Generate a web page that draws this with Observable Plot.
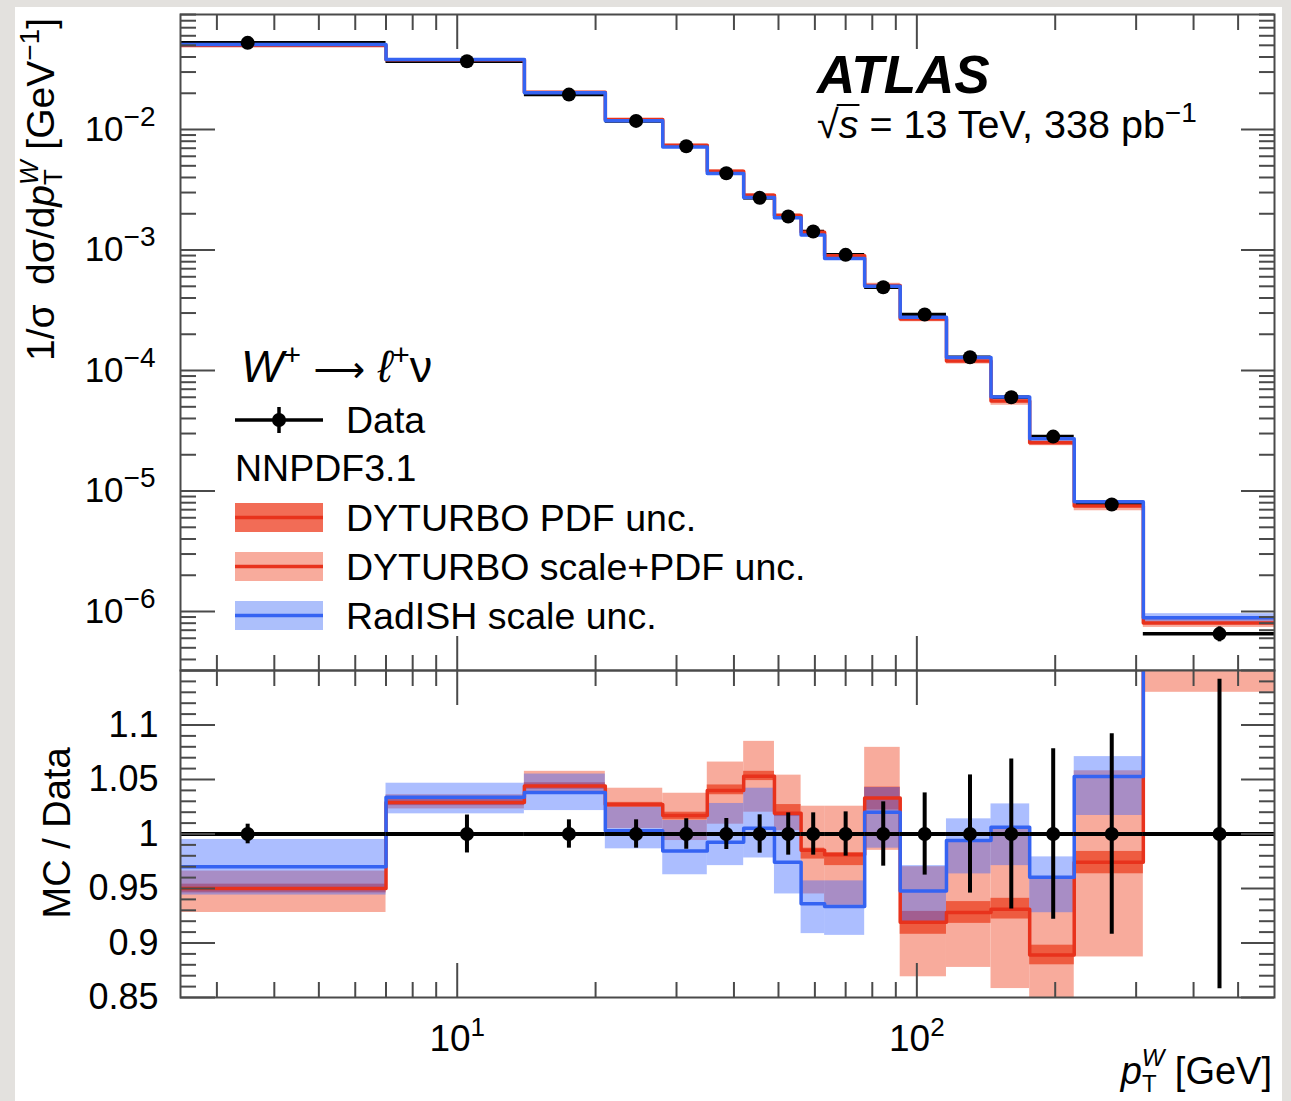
<!DOCTYPE html>
<html><head><meta charset="utf-8">
<script src="https://cdn.jsdelivr.net/npm/d3@7"></script>
<script src="https://cdn.jsdelivr.net/npm/@observablehq/plot@0.6"></script>
<style>
html,body{margin:0;padding:0;background:#e3e1de;}
#page{position:relative;width:1291px;height:1101px;overflow:hidden;}
#card{position:absolute;left:15px;top:7px;width:1267px;height:1094px;background:#fff;}
.panel{position:absolute;left:0;}
#overlay{position:absolute;left:0;top:0;pointer-events:none;}
</style></head><body>
<div id="page">
  <div id="card"></div>
  <div id="top" class="panel" style="top:0px"></div>
  <div id="bot" class="panel" style="top:668px"></div>
  <svg id="overlay" width="1291" height="1101"></svg>
</div>
<script>
// ---------------- data ----------------
const EDGES   = [0, 7, 14, 21, 28, 35, 42, 49, 56, 63, 77, 92, 116, 145, 176, 220, 311, 600];
const CENTERS = [3.5, 10.5, 17.5, 24.5, 31.5, 38.5, 45.5, 52.5, 59.5, 70, 84.5, 104, 130.5, 160.5, 198, 265.5, 455.5];
const DATA    = [0.0524, 0.0369, 0.0195, 0.0118, 0.00727, 0.00434, 0.00271, 0.00190, 0.001424, 0.000912,
                 0.000491, 0.000292, 0.000129, 6.0e-5, 2.83e-5, 7.73e-6, 6.53e-7];
const DATA_REL_ERR = [0.009, 0.0174, 0.013, 0.013, 0.014, 0.0142, 0.0176, 0.0194, 0.0194, 0.0203,
                      0.0295, 0.0377, 0.0542, 0.0688, 0.0783, 0.092, 0.142];
// DYTURBO (ratio MC/Data)
const DYT        = [0.950, 1.029, 1.044, 1.027, 1.017, 1.040, 1.053, 1.019, 0.985, 0.981, 1.033, 0.919, 0.928, 0.931, 0.889, 0.974, 1.23];
const DYT_PDF_LO = [0.946, 1.026, 1.041, 1.0245, 1.013, 1.036, 1.049, 1.016, 0.977, 0.971, 1.022, 0.908, 0.918, 0.922, 0.880, 0.9635, 1.215];
const DYT_PDF_HI = [0.954, 1.032, 1.047, 1.029, 1.020, 1.045, 1.0575, 1.027, 0.987, 0.983, 1.043, 0.929, 0.938, 0.941, 0.898, 0.984, 1.245];
const DYT_SCL_LO = [0.928, 1.023, 1.037, 1.005, 0.994, 1.009, 1.020, 1.003, 0.945, 0.9345, 0.985, 0.869, 0.8776, 0.8582, 0.84, 0.8872, 1.13];
const DYT_SCL_HI = [0.966, 1.036, 1.0575, 1.042, 1.0374, 1.066, 1.085, 1.054, 1.0255, 1.0255, 1.0795, 0.970, 0.994, 1.005, 0.9604, 1.058, 1.35];
// RadISH (ratio MC/Data)
const RAD    = [0.970, 1.0337, 1.038, 1.003, 0.9843, 0.9925, 1.0053, 0.974, 0.936, 0.9336, 1.020, 0.9476, 0.994, 1.0063, 0.9604, 1.0527, 1.36];
const RAD_LO = [0.944, 1.0185, 1.0215, 0.9864, 0.9626, 0.971, 0.978, 0.945, 0.9086, 0.907, 0.987, 0.919, 0.9634, 0.971, 0.9278, 1.017, 1.25];
const RAD_HI = [0.995, 1.0466, 1.055, 1.0246, 1.0124, 1.028, 1.042, 1.017, 0.957, 0.957, 1.0426, 0.971, 1.0139, 1.0276, 0.979, 1.071, 1.47];

// axes
const X_DOMAIN = [2.5, 600];
const TOP_Y_DOMAIN = [3.24e-7, 0.0901];
const BOT_Y_DOMAIN = [0.85, 1.15];
const X_MAJOR = [10, 100];
const X_MINOR = [3, 4, 5, 6, 7, 8, 9, 20, 30, 40, 50, 60, 70, 80, 90, 200, 300, 400, 500];
const Y_TOP_MAJOR = [1e-6, 1e-5, 1e-4, 1e-3, 1e-2];
const BOT_Y_LABELS = [0.85, 0.9, 0.95, 1, 1.05, 1.1];

// ---------------- style ----------------
const FONT = '"Liberation Sans", Arial, Helvetica, sans-serif';
const SALMON = "#f8ab9c", PDFC = "#ee5b40", PDF_SW = "#f26c56";
const RED = "#e8321c", BLUE = "#3563f2", BLUEBAND = "#3a64ff", BLUE_SW = "#acbffb";
const AX = "#4a4a4a";
const W = 1291, ML = 180, MR = 17;
const innerW = W - ML - MR;

const bins = CENTERS.map((c, i) => ({
  lo: Math.max(EDGES[i], X_DOMAIN[0]), hi: EDGES[i + 1], c,
  data: DATA[i], err: DATA_REL_ERR[i],
  dyt: DYT[i], pdfLo: DYT_PDF_LO[i], pdfHi: DYT_PDF_HI[i], sclLo: DYT_SCL_LO[i], sclHi: DYT_SCL_HI[i],
  rad: RAD[i], radLo: RAD_LO[i], radHi: RAD_HI[i]
}));
const steps = (f) => bins.flatMap(b => [{x: b.lo, y: f(b)}, {x: b.hi, y: f(b)}]);

const topMinor = [];
for (let e = -7; e <= -2; e++) for (let k = 2; k <= 9; k++) {
  const v = k * Math.pow(10, e);
  if (v > TOP_Y_DOMAIN[0] && v < TOP_Y_DOMAIN[1]) topMinor.push(v);
}
const botMajor = [], botMinor = [];
for (let i = 85; i <= 115; i++) (i % 5 === 0 ? botMajor : botMinor).push(i / 100);

function frameTicks(innerH, yMajor, yMinor) {
  const t = {stroke: AX, strokeWidth: 2};
  return [
    Plot.tickY(yMajor, {y: d => d, insetRight: innerW - 35, ...t}),
    Plot.tickY(yMinor, {y: d => d, insetRight: innerW - 16, ...t}),
    Plot.tickY(yMajor, {y: d => d, insetLeft: innerW - 33, ...t}),
    Plot.tickY(yMinor, {y: d => d, insetLeft: innerW - 15, ...t}),
    Plot.tickX(X_MAJOR, {x: d => d, insetBottom: innerH - 35, ...t}),
    Plot.tickX(X_MINOR, {x: d => d, insetBottom: innerH - 16, ...t}),
    Plot.tickX(X_MAJOR, {x: d => d, insetTop: innerH - 34, ...t}),
    Plot.tickX(X_MINOR, {x: d => d, insetTop: innerH - 15, ...t}),
    Plot.frame({stroke: AX, strokeWidth: 2})
  ];
}
const expLabel = d => { const e = Math.round(Math.log10(d)); return "10^" + (e < 0 ? "\u2212" + (-e) : String(e)); };

function supify(svg, fsSup, rise) {
  d3.select(svg).selectAll("text").each(function () {
    const t = this.textContent;
    if (!t.includes("^")) return;
    const [b, e] = t.split("^");
    const sel = d3.select(this);
    sel.text(null);
    sel.append("tspan").text(b);
    sel.append("tspan").attr("dy", -rise).attr("font-size", fsSup).text(e);
  });
}

// ---------------- top panel ----------------
const topH = 672, topMT = 14, topMB = 2;
const topPlot = Plot.plot({
  width: W, height: topH, marginTop: topMT, marginBottom: topMB, marginLeft: ML, marginRight: MR,
  style: {background: "transparent", overflow: "visible", fontFamily: FONT},
  x: {type: "log", domain: X_DOMAIN, axis: null},
  y: {type: "log", domain: TOP_Y_DOMAIN},
  marks: [
    Plot.rect(bins, {x1: "lo", x2: "hi", y1: d => d.data * d.sclLo, y2: d => d.data * d.sclHi, fill: SALMON, clip: true}),
    Plot.rect(bins, {x1: "lo", x2: "hi", y1: d => d.data * d.pdfLo, y2: d => d.data * d.pdfHi, fill: PDFC, clip: true}),
    Plot.rect(bins, {x1: "lo", x2: "hi", y1: d => d.data * d.radLo, y2: d => d.data * d.radHi, fill: BLUEBAND, fillOpacity: 0.42, clip: true}),
    Plot.ruleY(bins, {y: "data", x1: "lo", x2: "hi", stroke: "black", strokeWidth: 3.5, clip: true}),
    Plot.line(steps(b => b.data * b.dyt), {x: "x", y: "y", stroke: RED, strokeWidth: 3.5, clip: true}),
    Plot.line(steps(b => b.data * b.rad), {x: "x", y: "y", stroke: BLUE, strokeWidth: 3.5, clip: true}),
    Plot.ruleX(bins, {x: "c", y1: d => d.data * (1 - d.err), y2: d => d.data * (1 + d.err), stroke: "black", strokeWidth: 3.5}),
    Plot.dot(bins, {x: "c", y: "data", r: 7, fill: "black", stroke: "none"}),
    Plot.axisY({ticks: Y_TOP_MAJOR, tickSize: 0, tickPadding: 25, tickFormat: expLabel, label: null,
                fontSize: 35, fontFamily: FONT, fill: "black"}),
    ...frameTicks(topH - topMT - topMB, Y_TOP_MAJOR, topMinor)
  ]
});
document.getElementById("top").appendChild(topPlot);
supify(topPlot, 28, 15);

// ---------------- ratio panel ----------------
const botH = 433, botMT = 2, botMB = 104;
const botPlot = Plot.plot({
  width: W, height: botH, marginTop: botMT, marginBottom: botMB, marginLeft: ML, marginRight: MR,
  style: {background: "transparent", overflow: "visible", fontFamily: FONT},
  x: {type: "log", domain: X_DOMAIN},
  y: {type: "linear", domain: BOT_Y_DOMAIN},
  marks: [
    Plot.rect(bins, {x1: "lo", x2: "hi", y1: "sclLo", y2: "sclHi", fill: SALMON, clip: true}),
    Plot.rect(bins, {x1: "lo", x2: "hi", y1: "pdfLo", y2: "pdfHi", fill: PDFC, clip: true}),
    Plot.rect(bins, {x1: "lo", x2: "hi", y1: "radLo", y2: "radHi", fill: BLUEBAND, fillOpacity: 0.42, clip: true}),
    Plot.line(steps(b => b.dyt), {x: "x", y: "y", stroke: RED, strokeWidth: 3.5, clip: true}),
    Plot.line(steps(b => b.rad), {x: "x", y: "y", stroke: BLUE, strokeWidth: 3.5, clip: true}),
    Plot.ruleY(bins, {y: d => d.data / d.data, x1: "lo", x2: "hi", stroke: "black", strokeWidth: 4, clip: true}),
    Plot.ruleX(bins, {x: "c", y1: d => 1 - d.err, y2: d => 1 + d.err, stroke: "black", strokeWidth: 4, clip: true}),
    Plot.dot(bins, {x: "c", y: d => d.data / d.data, r: 7, fill: "black", stroke: "none"}),
    Plot.axisY({ticks: BOT_Y_LABELS, tickSize: 0, tickPadding: 22, label: null,
                tickFormat: d => d === 1 ? "1" : d.toFixed(2).replace(/0$/, ""),
                fontSize: 36, fontFamily: FONT, fill: "black"}),
    Plot.axisX({ticks: X_MAJOR, tickSize: 0, tickPadding: 27, label: null, tickFormat: expLabel,
                fontSize: 37, fontFamily: FONT, fill: "black"}),
    ...frameTicks(botH - botMT - botMB, botMajor, botMinor)
  ]
});
document.getElementById("bot").appendChild(botPlot);
supify(botPlot, 26, 15);

// ---------------- annotations ----------------
const ov = d3.select("#overlay").attr("font-family", FONT);

ov.append("text").attr("x", 817).attr("y", 93).attr("font-size", 53)
  .attr("font-weight", "bold").attr("font-style", "italic").text("ATLAS");

const sq = ov.append("text").attr("x", 817).attr("y", 138).attr("font-size", 39.5);
sq.append("tspan").text("\u221A");
sq.append("tspan").attr("font-style", "italic").text("s");
sq.append("tspan").text(" = 13 TeV, 338 pb");
sq.append("tspan").attr("dy", -16).attr("font-size", 28).text("\u22121");
try {
  const n = sq.node();
  const e0 = n.getExtentOfChar(0), e1 = n.getExtentOfChar(1);
  ov.append("line").attr("x1", e0.x + e0.width - 2).attr("x2", e1.x + e1.width + 1)
    .attr("y1", e0.y + 3).attr("y2", e0.y + 3).attr("stroke", "black").attr("stroke-width", 2);
} catch (err) {}

// legend
const lw = ov.append("text").attr("x", 241).attr("y", 382).attr("font-size", 45);
lw.append("tspan").attr("font-style", "italic").text("W");
lw.append("tspan").attr("dy", -17).attr("font-size", 30).text("+");
lw.append("tspan").attr("dy", 17).text(" ");
lw.append("tspan").attr("font-family", '"DejaVu Sans", sans-serif').attr("font-size", 36).text("\u27F6");
lw.append("tspan").text(" ");
lw.append("tspan").attr("font-style", "italic").text("\u2113");
lw.append("tspan").attr("dy", -17).attr("font-size", 30).text("+");
lw.append("tspan").attr("dy", 17).text("\u03BD");

ov.append("line").attr("x1", 235).attr("x2", 323).attr("y1", 420).attr("y2", 420).attr("stroke", "black").attr("stroke-width", 3.5);
ov.append("line").attr("x1", 279).attr("x2", 279).attr("y1", 407).attr("y2", 433).attr("stroke", "black").attr("stroke-width", 3.5);
ov.append("circle").attr("cx", 279).attr("cy", 420).attr("r", 7).attr("fill", "black");
ov.append("text").attr("x", 346).attr("y", 433).attr("font-size", 37.5).text("Data");
ov.append("text").attr("x", 235).attr("y", 481).attr("font-size", 37.5).text("NNPDF3.1");

const rows = [
  {y: 503, fill: PDF_SW, line: RED, label: "DYTURBO PDF unc."},
  {y: 552, fill: SALMON, line: RED, label: "DYTURBO scale+PDF unc."},
  {y: 601, fill: BLUE_SW, line: BLUE, label: "RadISH scale unc."}
];
rows.forEach(r => {
  ov.append("rect").attr("x", 235).attr("y", r.y).attr("width", 88).attr("height", 29).attr("fill", r.fill);
  ov.append("line").attr("x1", 235).attr("x2", 323).attr("y1", r.y + 14.5).attr("y2", r.y + 14.5)
    .attr("stroke", r.line).attr("stroke-width", 3.5);
  ov.append("text").attr("x", 346).attr("y", r.y + 28).attr("font-size", 37.5).text(r.label);
});

// y title (top)
const yt = ov.append("text").attr("transform", "translate(54,18) rotate(-90)")
  .attr("text-anchor", "end").attr("font-size", 39);
yt.append("tspan").text("1/\u03C3\u2002d\u03C3/d");
yt.append("tspan").attr("font-style", "italic").text("p");
yt.append("tspan").attr("font-size", 26).attr("dy", 8).text("T");
yt.append("tspan").attr("font-size", 26).attr("font-style", "italic").attr("dx", -16).attr("dy", -24).text("W");
yt.append("tspan").attr("dy", 16).text(" [GeV");
yt.append("tspan").attr("font-size", 28).attr("dy", -15).text("\u22121");
yt.append("tspan").attr("dy", 15).text("]");

// y title (ratio)
ov.append("text").attr("transform", "translate(70,833) rotate(-90)").attr("text-anchor", "middle")
  .attr("font-size", 38).text("MC / Data");

// x title
const xt = ov.append("text").attr("x", 1272).attr("y", 1084).attr("text-anchor", "end").attr("font-size", 38);
xt.append("tspan").attr("font-style", "italic").text("p");
xt.append("tspan").attr("font-size", 24).attr("dy", 8).text("T");
xt.append("tspan").attr("font-size", 24).attr("font-style", "italic").attr("dx", -15).attr("dy", -26).text("W");
xt.append("tspan").attr("dy", 18).text(" [GeV]");
</script>
</body></html>
